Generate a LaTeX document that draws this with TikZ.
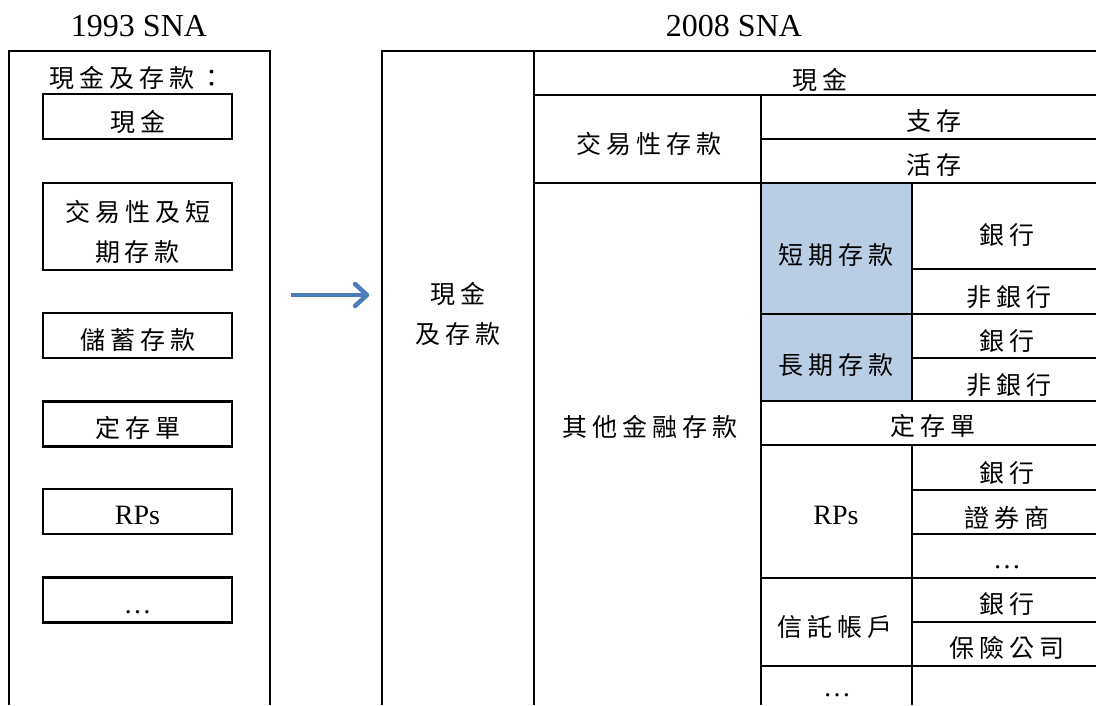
\documentclass[tikz,border=0pt]{standalone}
\usepackage{fontspec}
\setmainfont{Liberation Serif}
\newfontfamily\cjk{Noto Sans CJK TC}
\usetikzlibrary{arrows.meta}
\definecolor{arrowblue}{HTML}{4A7EBB}
\definecolor{cellblue}{HTML}{B9CDE5}
\newdimen\cjkgap \cjkgap=5pt
\makeatletter
\def\cjs#1{\cjs@a#1\relax}
\def\cjs@a#1{\ifx\relax#1\else#1\expandafter\cjs@b\fi}
\def\cjs@b#1{\ifx\relax#1\else\kern\cjkgap#1\expandafter\cjs@b\fi}
\makeatother
\tikzset{
  rule/.style={line width=2.4pt},
  cbox/.style={draw, line width=2.4pt, minimum width=189pt, minimum height=45pt, inner sep=0pt},
  ctxt/.style={font=\cjk\fontsize{25}{40}\selectfont, inner sep=0pt, align=center},
  ltxt/.style={font=\fontsize{28}{34}\selectfont, inner sep=0pt},
  ttl/.style={font=\fontsize{32}{38}\selectfont, inner sep=0pt},
  arr/.style={arrowblue, line width=4.5pt},
}
\begin{document}
\begin{tikzpicture}[x=1pt,y=-1pt]
\useasboundingbox (0,0) rectangle (1096,705);
% titles
\node[ttl] (t93) at (139,26) {1993 SNA};
\node[ttl] (t08) at (734,26) {2008 SNA};
% left outer frame
\draw[rule] (9,705) -- (9,51) -- (270,51) -- (270,705);
\node[ctxt] (lhead) at (137,78) {\cjs{現金及存款：}};
% left boxes
\node[cbox] (lb1) at (137.5,116.5) {};
\node[ctxt] (lt1) at (137.5,122) {\cjs{現金}};
\node[cbox, minimum height=87pt] (lb2) at (137.5,226.5) {};
\node[ctxt] (lt2) at (137.5,231.5) {\cjs{交易性及短}\\\cjs{期存款}};
\node[cbox] (lb3) at (137.5,335.5) {};
\node[ctxt] (lt3) at (137.5,340) {\cjs{儲蓄存款}};
\node[cbox] (lb4) at (137.5,424) {};
\node[ctxt] (lt4) at (137.5,428) {\cjs{定存單}};
\node[cbox] (lb5) at (137.5,511.5) {};
\node[ltxt] (lt5) at (137.5,515) {RPs};
\node[cbox] (lb6) at (137.5,600) {};
\node[ltxt] (lt6) at (137.5,612) {…};
% arrow
\coordinate (a1) at (291,295);
\coordinate (a2) at (367,295);
\draw[arr] (a1) -- ([xshift=-3pt]a2);
\draw[arr, line join=round, line cap=round]
  ([shift={(-12,-11)}]a2) -- (a2) -- ([shift={(-12,11)}]a2);
% right table: fill
\fill[cellblue] (761,183) rectangle (912,401);
% frame and verticals
\draw[rule] (382,705) -- (382,51) -- (1096,51);
\draw[rule] (534,51) -- (534,705);
\draw[rule] (761,95) -- (761,705);
\draw[rule] (912,183) -- (912,401);
\draw[rule] (912,445) -- (912,705);
% horizontals
\draw[rule] (534,95) -- (1096,95);
\draw[rule] (761,139) -- (1096,139);
\draw[rule] (534,183) -- (1096,183);
\draw[rule] (912,269) -- (1096,269);
\draw[rule] (761,314) -- (1096,314);
\draw[rule] (912,358) -- (1096,358);
\draw[rule] (761,401) -- (1096,401);
\draw[rule] (761,445) -- (1096,445);
\draw[rule] (912,490) -- (1096,490);
\draw[rule] (912,534) -- (1096,534);
\draw[rule] (761,578) -- (1096,578);
\draw[rule] (912,622) -- (1096,622);
\draw[rule] (761,666) -- (1096,666);
% right texts
\node[ctxt] (r1) at (458,313.5) {\cjs{現金}\\\cjs{及存款}};
\node[ctxt] (r2) at (820,80) {\cjs{現金}};
\node[ctxt] (r3) at (649,144) {\cjs{交易性存款}};
\node[ctxt] (r4) at (934,121) {\cjs{支存}};
\node[ctxt] (r5) at (934,165) {\cjs{活存}};
\node[ctxt] (r6) at (650,427) {\cjs{其他金融存款}};
\node[ctxt] (r7) at (836,255) {\cjs{短期存款}};
\node[ctxt] (r8) at (836,365) {\cjs{長期存款}};
\node[ctxt] (r9) at (1007,235.5) {\cjs{銀行}};
\node[ctxt] (r10) at (1009,297.5) {\cjs{非銀行}};
\node[ctxt] (r11) at (1007,341) {\cjs{銀行}};
\node[ctxt] (r12) at (1009,385) {\cjs{非銀行}};
\node[ctxt] (r13) at (932.5,426) {\cjs{定存單}};
\node[ltxt] (r14) at (836,515) {RPs};
\node[ctxt] (r15) at (1007,473) {\cjs{銀行}};
\node[ctxt] (r16) at (1007,517.5) {\cjs{證券商}};
\node[ltxt] (r17) at (1007,567) {…};
\node[ctxt] (r18) at (835,627) {\cjs{信託帳戶}};
\node[ctxt] (r19) at (1007,604) {\cjs{銀行}};
\node[ctxt] (r20) at (1007,648) {\cjs{保險公司}};
\node[ltxt] (r21) at (837,695) {…};
\end{tikzpicture}
\end{document}
